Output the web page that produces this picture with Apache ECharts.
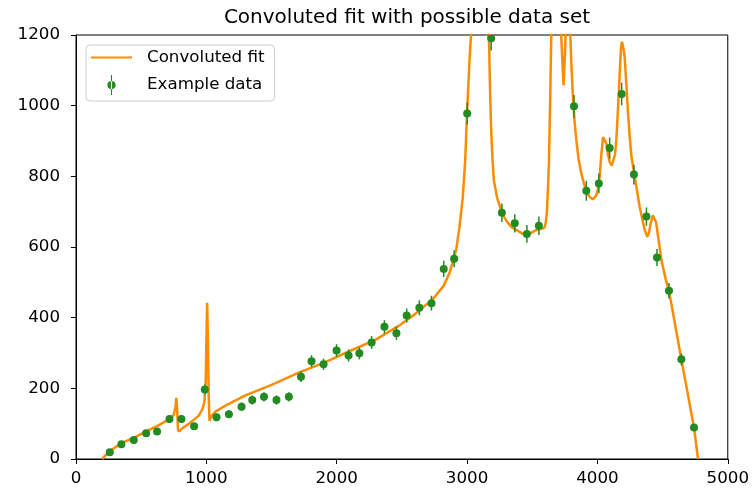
<!DOCTYPE html>
<html>
<head>
<meta charset="utf-8">
<script src="https://cdn.jsdelivr.net/npm/echarts@6/dist/echarts.min.js"></script>
<style>
html, body { margin: 0; padding: 0; background: #fff; }
#main { width: 752px; height: 492px; }
</style>
</head>
<body>
<div id="main"></div>
<script>
// measured points (x, counts, error bar half length)
var dataX = [259, 348, 443, 538, 622, 717, 809, 906, 988, 1078, 1173, 1270, 1352, 1442, 1538, 1633,
  1726, 1807, 1899, 1999, 2091, 2174, 2268, 2366, 2458, 2537, 2634, 2727, 2821, 2901, 3001, 3185,
  3267, 3366, 3459, 3551, 3820, 3915, 4011, 4094, 4186, 4280, 4376, 4457, 4549, 4644, 4741];
var dataY = [19, 42, 54, 73, 78, 113, 113, 93, 197, 118, 127, 148, 167, 176, 167, 176,
  233, 277, 268, 307, 293, 299, 330, 374, 356, 406, 428, 441, 538, 567, 978, 1191,
  697, 667, 637, 660, 998, 759, 780, 880, 1033, 805, 686, 570, 476, 282, 89];
var dataErr = [4, 6, 7, 9, 9, 11, 11, 10, 14, 11, 11, 12, 13, 13, 13, 13,
  15, 17, 16, 18, 17, 17, 18, 19, 19, 20, 21, 21, 23, 24, 31, 35,
  26, 26, 25, 26, 32, 28, 28, 30, 32, 28, 26, 24, 22, 17, 9];

// fit curve (peaks above 1200 are clipped)
var fitX = [200, 259, 348, 443, 538, 622, 717, 750, 762, 770, 776, 782, 789, 820, 860, 900, 940, 968, 985,
  995, 1000, 1006, 1012, 1018, 1024, 1040, 1070, 1150, 1300, 1500, 1713, 1900, 2097, 2300, 2481, 2600,
  2737, 2820, 2865, 2916, 2942, 2967, 2985, 3000, 3010, 3018, 3025, 3031, 3100, 3167, 3170, 3172, 3178,
  3185, 3195, 3205, 3230, 3267, 3300, 3339, 3428, 3480, 3530, 3575, 3594, 3605, 3612, 3620, 3628, 3638,
  3646, 3680, 3722, 3732, 3740, 3748, 3756, 3770, 3792, 3800, 3812, 3825, 3838, 3855, 3876, 3900, 3922,
  3945, 3965, 3990, 4003, 4017, 4030, 4043, 4055, 4068, 4080, 4094, 4110, 4124, 4135, 4145, 4155, 4165,
  4180, 4188, 4198, 4209, 4222, 4235, 4248, 4261, 4286, 4324, 4363, 4383, 4395, 4409, 4425, 4435, 4450,
  4466, 4491, 4525, 4549, 4644, 4741, 4772];
var fitY = [0, 22, 45, 60, 78, 93, 113, 125, 145, 173, 140, 85, 78, 88, 98, 110, 122, 140, 160,
  220, 330, 442, 330, 180, 108, 122, 134, 152, 180, 210, 245, 272, 305, 338, 378, 410,
  452, 490, 526, 591, 657, 740, 840, 978, 1060, 1120, 1170, 1200, 3000, 1200, 1160, 1120, 1020,
  931, 850, 790, 740, 697, 675, 657, 637, 638, 648, 652, 655, 672, 695, 760, 837, 1025,
  1200, 2000, 1200, 1120, 1058, 1120, 1200, 1600, 1200, 1120, 1025, 955, 903, 850, 809, 775, 752,
  740, 735, 745, 761, 799, 860, 911, 912, 894, 865, 841, 830, 835, 862, 903, 970, 1044,
  1160, 1181, 1165, 1139, 1060, 978, 910, 856, 799, 714, 648, 629, 640, 667, 690, 691, 670,
  629, 563, 507, 476, 282, 89, 0];

var xTicks = [0, 1000, 2000, 3000, 4000, 5000];
var yTicks = [0, 200, 400, 600, 800, 1000, 1200];

var fitData = fitX.map(function (x, i) { return [x, fitY[i]]; });
var pts = dataX.map(function (x, i) { return [x, dataY[i], dataErr[i]]; });

var font = 'DejaVu Sans';
var chart = echarts.init(document.getElementById('main'), null, { renderer: 'canvas' });

var option = {
  backgroundColor: '#fff',
  animation: false,
  title: {
    text: 'Convoluted fit with possible data set',
    left: 402, top: 3, textAlign: 'center',
    textStyle: { fontFamily: font, fontSize: 20, fontWeight: 'normal', color: '#000' }
  },
  legend: {
    orient: 'vertical',
    left: 86, top: 45,
    padding: [4, 10, 6, 5],
    itemWidth: 41, itemHeight: 20, itemGap: 9,
    borderColor: '#ccc', borderWidth: 1, borderRadius: 4,
    backgroundColor: 'rgba(255,255,255,0.8)',
    textStyle: { fontFamily: font, fontSize: 16.7, color: '#000', padding: [0, 0, 0, 10] },
    data: [
      { name: 'Convoluted fit', icon: 'path://M0,9 H41 V11.2 H0 Z' },
      { name: 'Example data', icon: 'path://M9.4,0 H10.6 V22 H9.4 Z M5.5,11 A4.5,4.5 0 1 0 14.5,11 A4.5,4.5 0 1 0 5.5,11 Z' }
    ]
  },
  grid: {
    left: 76, right: 24, top: 35, bottom: 33,
    show: true, borderColor: '#000', borderWidth: 1
  },
  xAxis: {
    type: 'value', min: xTicks[0], max: xTicks[xTicks.length - 1], interval: 1000,
    axisLine: { show: true, onZero: false, lineStyle: { color: '#000', width: 1 } },
    axisTick: { show: true, inside: false, length: 5, lineStyle: { color: '#000' } },
    axisLabel: { fontFamily: font, fontSize: 16.7, color: '#000', margin: 11,
      formatter: function (v) { return String(v); } },
    splitLine: { show: false }
  },
  yAxis: {
    type: 'value', min: yTicks[0], max: yTicks[yTicks.length - 1], interval: 200,
    axisLine: { show: true, onZero: false, lineStyle: { color: '#000', width: 1 } },
    axisTick: { show: true, inside: false, length: 5, lineStyle: { color: '#000' } },
    axisLabel: { fontFamily: font, fontSize: 16.7, color: '#000', margin: 16,
      formatter: function (v) { return String(v); } },
    splitLine: { show: false }
  },
  series: [
    {
      name: 'Convoluted fit',
      type: 'line',
      data: fitData,
      symbol: 'none',
      clip: true,
      lineStyle: { color: '#ff8c00', width: 2.5 },
      itemStyle: { color: '#ff8c00' },
      z: 2
    },
    {
      name: 'Example data',
      type: 'custom',
      clip: true,
      data: pts,
      itemStyle: { color: '#228b22' },
      renderItem: function (params, api) {
        var x = api.value(0), y = api.value(1), e = api.value(2);
        var lo = api.coord([x, y - e]);
        var hi = api.coord([x, y + e]);
        var c = api.coord([x, y]);
        return {
          type: 'group',
          children: [
            { type: 'line', shape: { x1: lo[0], y1: lo[1], x2: hi[0], y2: hi[1] },
              style: { stroke: '#228b22', lineWidth: 1.5 } },
            { type: 'circle', shape: { cx: c[0], cy: c[1], r: 4 },
              style: { fill: '#228b22' } }
          ]
        };
      },
      z: 3
    }
  ]
};

chart.setOption(option);
</script>
</body>
</html>
